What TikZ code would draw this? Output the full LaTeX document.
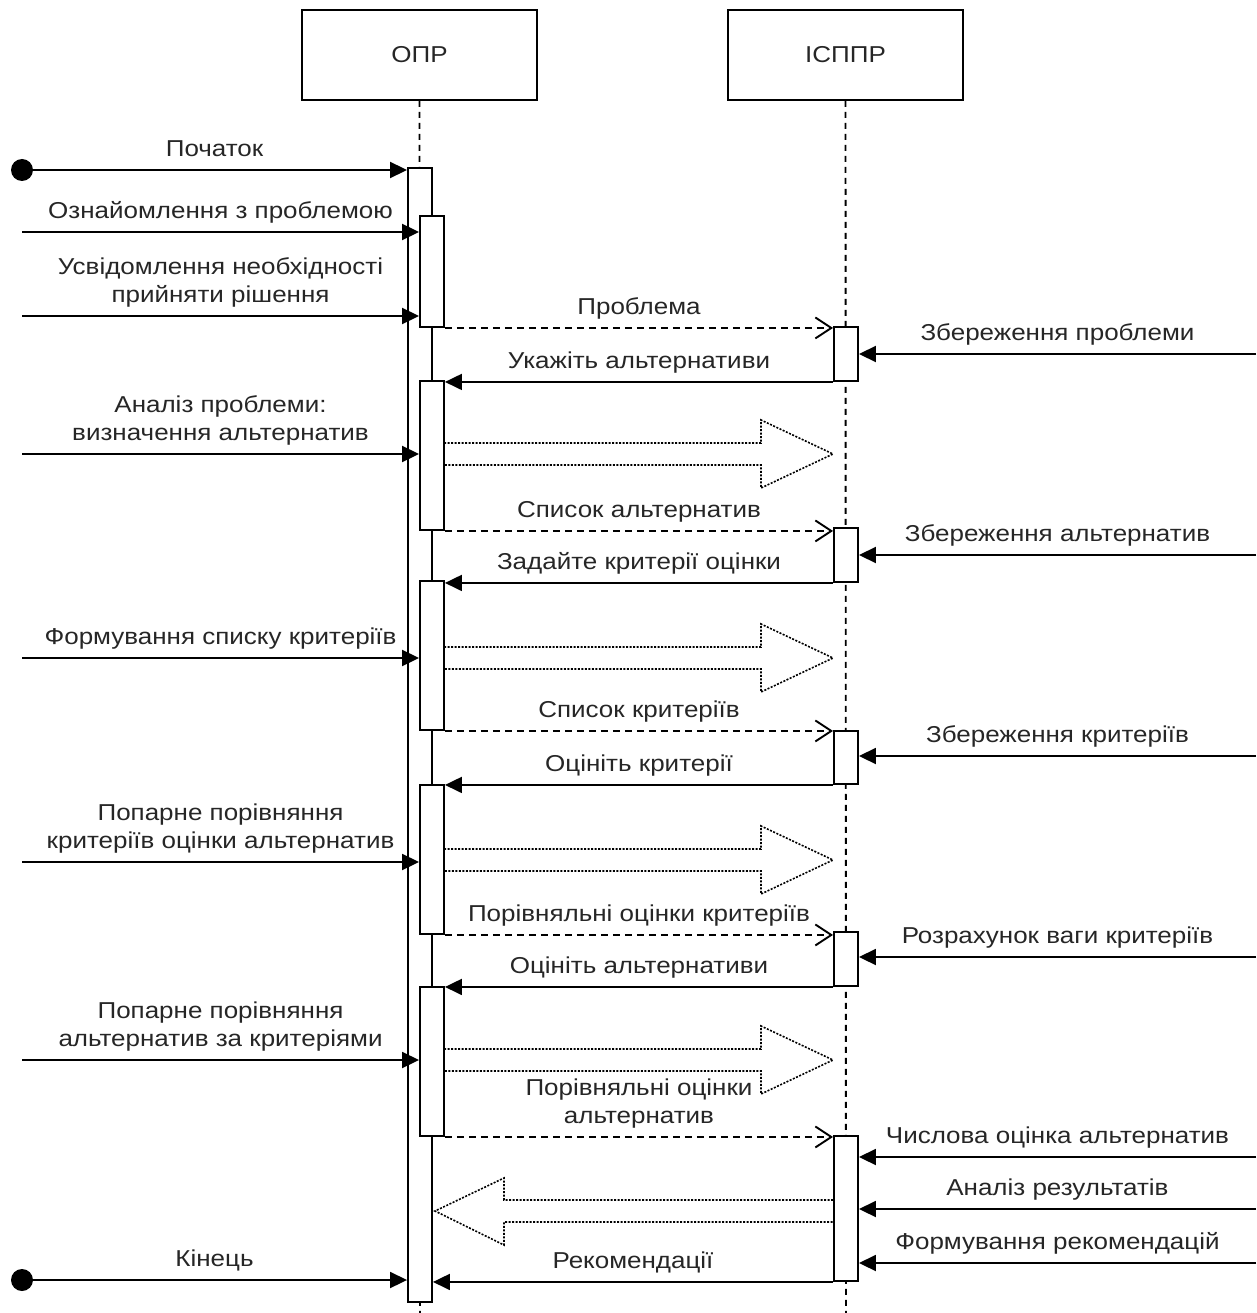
\documentclass[tikz,border=0pt]{standalone}
\usepackage{fontspec}
\setmainfont[FakeStretch=1.13]{Liberation Sans}
\usetikzlibrary{arrows.meta}

\begin{document}
\begin{tikzpicture}[x=1pt,y=-1pt,
  font=\fontsize{23}{28}\selectfont,
  line width=1.9pt,
  actor/.style={draw, minimum width=235pt, minimum height=90pt, text=black!85},
  bar/.style={draw, fill=white, minimum width=24pt, inner sep=0pt},
  life/.style={dash pattern=on 6pt off 5pt},
  call/.style={-{Triangle[length=17pt,width=16pt]}},
  reply/.style={dash pattern=on 7pt off 5pt, -{Straight Barb[length=16pt,width=21pt]}},
  block/.style={line width=1.6pt, dash pattern=on 2pt off 1.5pt},
  lbl/.style={above, inner sep=0pt, yshift=8pt, text depth=5pt, align=center, text=black!85}]
\useasboundingbox (0,0) rectangle (1256,1313);

%lifelines
\node[actor] (opr) at (419.5,55) {ОПР};
\node[actor] (isppr) at (845.5,55) {ІСППР};
\coordinate (oprend) at (420,1313);
\coordinate (ispprend) at (846,1313);
\draw[life] (opr.south) -- (oprend);
\draw[life] (isppr.south) -- (ispprend);

%activation bars
\node[bar, minimum height=1134] (om) at (420,735) {};
\foreach \n/\t/\b in {1/216/327,2/381/530,3/581/730,4/785/934,5/987/1136}
  \node[bar, minimum height=\b-\t] (o\n) at (432,{(\t+\b)/2}) {};
\foreach \n/\t/\b in {1/327/381,2/528/582,3/731/784,4/932/986,5/1136/1281}
  \node[bar, minimum height=\b-\t] (i\n) at (846,{(\t+\b)/2}) {};

%free ends on the left and right
\coordinate (s0) at (22,170);
\coordinate (s1) at (22,232);
\coordinate (s2) at (22,316);
\coordinate (s3) at (22,454);
\coordinate (s4) at (22,658);
\coordinate (s5) at (22,862);
\coordinate (s6) at (22,1060);
\coordinate (s7) at (22,1280);
\coordinate (r1) at (1256,354);
\coordinate (r2) at (1256,555);
\coordinate (r3) at (1256,756);
\coordinate (r4) at (1256,957);
\coordinate (r5) at (1256,1157);
\coordinate (r6) at (1256,1209);
\coordinate (r7) at (1256,1263);
\fill (s0) circle (11pt);
\fill (s7) circle (11pt);

%messages into the decision maker
\draw[call] (s0) -- (s0 -| om.west) node[lbl, midway] {Початок};
\draw[call] (s1) -- (s1 -| o1.west) node[lbl, midway] {Ознайомлення з проблемою};
\draw[call] (s2) -- (s2 -| o1.west) node[lbl, midway] {Усвідомлення необхідності\\прийняти рішення};
\draw[call] (s3) -- (s3 -| o2.west) node[lbl, midway] {Аналіз проблеми:\\визначення альтернатив};
\draw[call] (s4) -- (s4 -| o3.west) node[lbl, midway] {Формування списку критеріїв};
\draw[call] (s5) -- (s5 -| o4.west) node[lbl, midway] {Попарне порівняння\\критеріїв оцінки альтернатив};
\draw[call] (s6) -- (s6 -| o5.west) node[lbl, midway] {Попарне порівняння\\альтернатив за критеріями};
\draw[call] (s7) -- (s7 -| om.west) node[lbl, midway] {Кінець};

%messages into the system
\draw[call] (r1) -- (r1 -| i1.east) node[lbl, midway] {Збереження проблеми};
\draw[call] (r2) -- (r2 -| i2.east) node[lbl, midway] {Збереження альтернатив};
\draw[call] (r3) -- (r3 -| i3.east) node[lbl, midway] {Збереження критеріїв};
\draw[call] (r4) -- (r4 -| i4.east) node[lbl, midway] {Розрахунок ваги критеріїв};
\draw[call] (r5) -- (r5 -| i5.east) node[lbl, midway] {Числова оцінка альтернатив};
\draw[call] (r6) -- (r6 -| i5.east) node[lbl, midway] {Аналіз результатів};
\draw[call] (r7) -- (r7 -| i5.east) node[lbl, midway] {Формування рекомендацій};

%between the lifelines
\draw[reply] (o1.south east) -- (o1.south east -| i1.west) node[lbl, midway] {Проблема};
\draw[call] (i1.south west) -- (i1.south west -| o2.east) node[lbl, midway] {Укажіть альтернативи};
\draw[reply] (o2.south east) -- (o2.south east -| i2.west) node[lbl, midway] {Список альтернатив};
\draw[call] (i2.south west) -- (i2.south west -| o3.east) node[lbl, midway] {Задайте критерії оцінки};
\draw[reply] (o3.south east) -- (o3.south east -| i3.west) node[lbl, midway] {Список критеріїв};
\draw[call] (i3.south west) -- (i3.south west -| o4.east) node[lbl, midway] {Оцініть критерії};
\draw[reply] (o4.south east) -- (o4.south east -| i4.west) node[lbl, midway] {Порівняльні оцінки критеріїв};
\draw[call] (i4.south west) -- (i4.south west -| o5.east) node[lbl, midway] {Оцініть альтернативи};
\draw[reply] (o5.south east) -- (o5.south east -| i5.west) node[lbl, midway] {Порівняльні оцінки\\альтернатив};
\draw[call] (i5.south west) -- (i5.south west -| om.east) node[lbl, midway] {Рекомендації};

%hollow block arrows
\foreach \y in {454,658,860,1060}
  \draw[block] (444,{\y-11}) -- (761,{\y-11}) -- (761,{\y-34}) -- (833,\y) -- (761,{\y+34}) -- (761,{\y+11}) -- (444,{\y+11});
\draw[block] (i5.west |- 0,1200) -- (504,1200) -- (504,1178) -- (435,1211) -- (504,1245) -- (504,1222) -- (i5.west |- 0,1222);

\end{tikzpicture}
\end{document}
